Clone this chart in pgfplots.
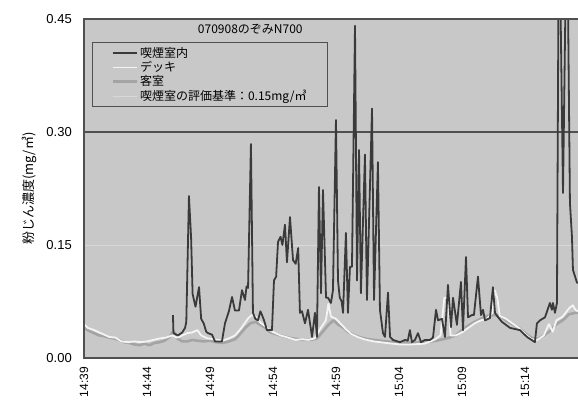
\documentclass[border=0pt]{standalone}
\usepackage{fontspec}
\setmainfont{Liberation Sans}
\newfontfamily\jp{Noto Sans CJK JP}
\usepackage{pgfplots}
\pgfplotsset{compat=1.18}

\definecolor{bg}{HTML}{C8C8C8}
\definecolor{frame}{HTML}{505050}
\definecolor{smoke}{HTML}{3A3A3A}
\definecolor{deck}{HTML}{F4F4F4}
\definecolor{cabin}{HTML}{A4A4A4}
\definecolor{limitc}{HTML}{D8D8D8}

\tikzset{
  smokeline/.style={smoke, line width=1.8pt, line join=round},
  deckline/.style={deck, line width=1.8pt, line join=round},
  cabinline/.style={cabin, line width=2.6pt, line join=round},
  limitline/.style={limitc, line width=0.7pt},
}

\begin{document}
\begin{tikzpicture}
\begin{axis}[
  name=ax,
  scale only axis, width=494pt, height=339pt,
  xmin=0, xmax=39.21, ymin=0, ymax=0.45,
  axis line style={draw=none},
  axis background/.style={fill=bg},
  major tick length=0pt,
  /pgf/number format/assume math mode=true,
  xtick={0,5,...,35},
  xticklabels={14:39,14:44,14:49,14:54,14:59,15:04,15:09,15:14},
  ytick={0,0.15,0.30,0.45},
  yticklabels={0.00,0.15,0.30,0.45},
  x tick label style={rotate=90, anchor=east, inner sep=0pt, font=\fontsize{12}{12}\selectfont},
  xticklabel shift=9pt,
  y tick label style={anchor=east, inner sep=0pt, font=\fontsize{13}{13}\selectfont},
  yticklabel shift=12pt,
  legend style={at={(rel axis cs:0.0162,0.932)}, anchor=north west,
    draw=frame, line width=0.9pt, fill=none, inner xsep=19pt, inner ysep=3pt,
    row sep=-1.5pt, font=\jp\fontsize{12}{12}\selectfont},
  legend cell align=left,
  legend image code/.code={\path (0pt,0pt) -- (24pt,0pt); \draw[#1] (1pt,0pt) -- (24pt,0pt);},
]
\addlegendimage{smokeline}
\addlegendentry{喫煙室内}
\addlegendimage{deckline}
\addlegendentry{デッキ}
\addlegendimage{cabinline}
\addlegendentry{客室}
\addlegendimage{limitline}
\addlegendentry{喫煙室の評価基準：0.15mg/㎥}

% evaluation limit and upper grid line
\addplot[limitline, forget plot] coordinates {(0,0.15) (39.21,0.15)};
\addplot[frame, line width=1.1pt, forget plot] coordinates {(0,0.30) (39.21,0.30)};

% passenger cabin
\addplot[cabinline, forget plot] coordinates {
(0,0.040)(0.4,0.036)(0.8,0.033)(1.2,0.030)(1.6,0.029)(2.0,0.027)(2.4,0.026)(2.8,0.024)
(3.2,0.021)(3.6,0.020)(4.0,0.018)(4.4,0.017)(4.8,0.019)(5.2,0.017)(5.6,0.020)(6.0,0.021)
(6.4,0.023)(6.8,0.028)(7.0,0.034)(7.2,0.034)(7.4,0.026)(7.8,0.022)(8.2,0.022)(8.6,0.024)
(9.0,0.023)(9.5,0.022)(10.0,0.023)(10.5,0.021)(11.0,0.020)(11.5,0.022)(12.0,0.025)(12.4,0.032)
(12.8,0.040)(13.2,0.046)(13.6,0.048)(14.0,0.044)(14.4,0.040)(14.8,0.034)(15.2,0.032)(15.6,0.030)
(16.0,0.028)(16.5,0.026)(17.0,0.025)(17.5,0.024)(18.0,0.024)(18.5,0.026)(19.0,0.036)(19.4,0.044)
(19.8,0.050)(20.2,0.044)(20.6,0.040)(21.0,0.034)(21.5,0.030)(22.0,0.027)(22.5,0.025)(23.0,0.024)
(24.0,0.022)(25.0,0.021)(26.0,0.020)(27.0,0.021)(27.5,0.022)(28.0,0.023)(28.5,0.025)(29.0,0.027)
(29.5,0.030)(30.0,0.037)(30.5,0.043)(31.0,0.048)(31.5,0.052)(32.0,0.056)(32.5,0.057)(33.0,0.056)
(33.5,0.050)(34.0,0.045)(34.5,0.040)(35.0,0.033)(35.5,0.027)(36.0,0.025)(36.5,0.030)(37.0,0.036)
(37.5,0.045)(38.0,0.050)(38.5,0.058)(39.0,0.060)(39.21,0.060)};

% deck
\addplot[deckline, forget plot] coordinates {
(0,0.045)(0.3,0.040)(0.8,0.037)(1.2,0.034)(1.6,0.031)(2.0,0.028)(2.5,0.027)(3.0,0.022)
(3.5,0.021)(4.0,0.022)(4.5,0.021)(5.0,0.022)(5.5,0.024)(6.0,0.026)(6.5,0.027)(7.0,0.030)
(7.4,0.027)(7.8,0.030)(8.2,0.033)(8.6,0.034)(9.0,0.037)(9.3,0.030)(9.8,0.026)(10.3,0.025)
(11.0,0.023)(11.5,0.026)(12.0,0.030)(12.5,0.040)(13.0,0.052)(13.3,0.057)(13.6,0.055)(14.0,0.047)
(14.4,0.042)(14.8,0.036)(15.2,0.033)(15.6,0.030)(16.2,0.027)(16.8,0.024)(17.3,0.025)(17.8,0.024)
(18.3,0.026)(18.8,0.040)(19.2,0.050)(19.4,0.072)(19.6,0.055)(20.0,0.052)(20.4,0.045)(20.8,0.038)
(21.2,0.032)(21.7,0.028)(22.2,0.025)(23.0,0.022)(24.0,0.020)(25.0,0.018)(26.0,0.018)(27.0,0.019)
(27.5,0.022)(27.9,0.025)(28.3,0.030)(28.6,0.080)(28.9,0.080)(29.1,0.030)(29.5,0.030)(30.0,0.034)
(30.5,0.040)(31.0,0.046)(31.5,0.050)(32.0,0.052)(32.4,0.060)(32.6,0.090)(32.8,0.080)(33.0,0.056)
(33.5,0.052)(34.0,0.046)(34.5,0.040)(35.0,0.032)(35.5,0.025)(36.0,0.024)(36.5,0.030)(36.9,0.045)
(37.2,0.035)(37.5,0.050)(38.0,0.055)(38.5,0.066)(38.8,0.070)(39.0,0.064)(39.21,0.062)};

% smoking room
\addplot[smokeline, forget plot] coordinates {
(7.06,0.057)(7.10,0.033)(7.46,0.030)(7.80,0.034)(8.02,0.040)(8.12,0.048)(8.33,0.215)(8.50,0.160)
(8.62,0.085)(8.85,0.068)(9.00,0.082)(9.13,0.094)(9.30,0.052)(9.50,0.046)(9.70,0.035)(9.84,0.033)
(10.16,0.031)(10.40,0.022)(10.95,0.022)(11.19,0.046)(11.50,0.062)(11.75,0.081)(11.98,0.063)(12.30,0.063)
(12.54,0.090)(12.78,0.077)(12.90,0.095)(13.02,0.093)(13.25,0.284)(13.41,0.060)(13.60,0.052)(13.81,0.050)
(14.00,0.062)(14.13,0.057)(14.29,0.050)(14.52,0.037)(14.92,0.037)(15.08,0.103)(15.25,0.108)(15.40,0.154)
(15.60,0.161)(15.75,0.150)(15.95,0.177)(16.11,0.127)(16.35,0.187)(16.59,0.130)(16.80,0.125)(17.00,0.146)
(17.14,0.060)(17.30,0.062)(17.54,0.046)(17.78,0.064)(18.10,0.028)(18.33,0.060)(18.49,0.028)(18.65,0.227)
(18.81,0.086)(18.97,0.223)(19.21,0.080)(19.37,0.080)(19.60,0.073)(19.76,0.090)(20.00,0.316)(20.16,0.103)
(20.30,0.080)(20.45,0.075)(20.56,0.060)(20.79,0.166)(20.95,0.060)(21.11,0.121)(21.27,0.121)(21.51,0.441)
(21.67,0.103)(21.83,0.276)(21.98,0.086)(22.30,0.270)(22.46,0.077)(22.86,0.331)(23.02,0.077)(23.33,0.260)
(23.49,0.064)(23.73,0.033)(23.89,0.028)(24.13,0.087)(24.29,0.028)(24.52,0.024)(25.08,0.021)(25.48,0.024)
(25.70,0.023)(25.87,0.037)(26.03,0.021)(26.27,0.024)(26.51,0.033)(26.75,0.021)(27.06,0.024)(27.46,0.024)
(27.70,0.027)(27.94,0.064)(28.10,0.050)(28.41,0.052)(28.65,0.028)(28.89,0.097)(29.13,0.041)(29.29,0.080)
(29.60,0.044)(29.92,0.101)(30.08,0.037)(30.32,0.134)(30.48,0.054)(30.79,0.057)(30.95,0.057)(31.27,0.108)
(31.51,0.057)(31.67,0.064)(31.83,0.050)(32.22,0.053)(32.46,0.094)(32.62,0.060)(32.78,0.056)(33.17,0.048)
(33.81,0.040)(34.60,0.037)(35.16,0.028)(35.79,0.021)(35.95,0.046)(36.19,0.050)(36.59,0.054)(36.98,0.073)
(37.14,0.064)(37.22,0.073)(37.38,0.060)(37.54,0.073)(37.70,0.620)(38.02,0.219)(38.33,0.620)(38.57,0.206)
(38.73,0.161)(38.81,0.117)(39.13,0.100)(39.21,0.100)};

\node[font=\jp\fontsize{12}{12}\selectfont] at (axis cs:13.2,0.437) {070908のぞみN700};
\end{axis}

% frame: top, left and bottom edges
\draw[frame, line width=1.2pt] (ax.north east) -- (ax.north west) -- (ax.south west) -- (ax.south east);

\node[rotate=90, font=\jp\fontsize{13}{13}\selectfont] at ([xshift=-55pt]ax.west) {粉じん濃度(mg/㎥)};

\pgfresetboundingbox
\path[use as bounding box] ([xshift=-84pt,yshift=-41pt]ax.south west) rectangle ([yshift=19pt]ax.north east);
\end{tikzpicture}
\end{document}
